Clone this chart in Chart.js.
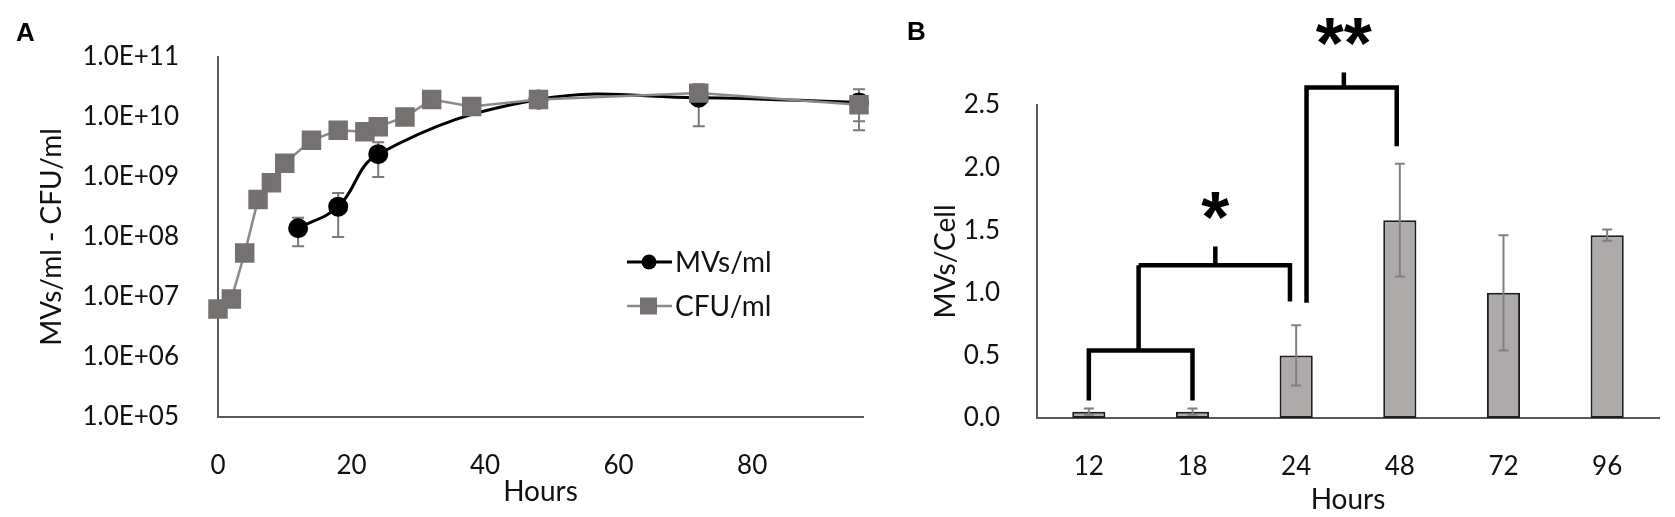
<!DOCTYPE html>
<html lang="es">
<head>
<meta charset="utf-8">
<title>MVs / CFU</title>
<script src="https://cdn.jsdelivr.net/npm/chart.js@4.4.1/dist/chart.umd.min.js"></script>
<style>
  html, body { margin: 0; padding: 0; background: #fff; }
  #contenedor { position: relative; width: 1675px; height: 517px; overflow: hidden; }
  canvas { position: absolute; top: 0; }
  #graficoA { left: 0; width: 880px; height: 517px; }
  #graficoB { left: 880px; width: 795px; height: 517px; }
  .letra { position: absolute; font: bold 26px "Liberation Sans", Arial, sans-serif; line-height: 26px; color: #000; }
</style>
</head>
<body>
<div id="contenedor">
  <canvas id="graficoA" width="880" height="517"></canvas>
  <canvas id="graficoB" width="795" height="517"></canvas>
  <div class="letra" style="left:16px; top:19px;">A</div>
  <div class="letra" style="left:907px; top:18px;">B</div>
</div>
<script>
// 🔽 Panel A: MVs/ml y CFU/ml (escala logaritmica)
const horasCFU = [0, 2, 4, 6, 8, 10, 14, 18, 22, 24, 28, 32, 38, 48, 72, 96];
const valoresCFU = [6.3e6, 9.3e6, 5.4e7, 4.2e8, 8.0e8, 1.7e9, 4.1e9, 6.0e9, 5.7e9, 6.9e9, 1.0e10, 1.95e10, 1.5e10, 1.95e10, 2.5e10, 1.6e10];
const errorCFU = [0, 0, 0, 0, 0, 0, 0, 0, 0, 0, 0, 0, 0, 0, 0, 7.5e9];

const horasMV = [12, 18, 24, 48, 72, 96];
const valoresMV = [1.4e8, 3.2e8, 2.4e9, 1.95e10, 2.1e10, 1.75e10];
const errorMV = [7e7, 2.2e8, 1.4e9, 0, 1.4e10, 1.15e10];

const ticksXA = [0, 20, 40, 60, 80];
const ticksYA = [1e5, 1e6, 1e7, 1e8, 1e9, 1e10, 1e11];

// 🔽 Panel B: MVs por celula
const categoriasB = ['12', '18', '24', '48', '72', '96'];
const mvPorCelula = [0.05, 0.05, 0.50, 1.58, 1.00, 1.46];
const errorB = [0.025, 0.025, 0.24, 0.45, 0.46, 0.045];
const ticksYB = [0, 0.5, 1.0, 1.5, 2.0, 2.5];

// corchetes de significancia (x = indice de categoria, y = MVs/Cell)
const corchetes = [
  { x1: 0, x2: 1, yTop: 0.54, yIzq: 0.14, yDer: 0.14, xTallo: 0.48, yTallo: 1.22 },
  { x1: 0.48, x2: 1.94, yTop: 1.22, yIzq: 1.22, yDer: 0.93, xTallo: 1.22, yTallo: 1.37 },
  { x1: 2.1, x2: 2.97, yTop: 2.64, yIzq: 0.92, yDer: 2.17, xTallo: 2.46, yTallo: 2.76 }
];
const asteriscos = [
  { texto: '*', x: 1.22, y: 1.51 },
  { texto: '**', x: 2.46, y: 2.90 }
];

Chart.defaults.font.family = 'Lato, "Open Sans", sans-serif';
Chart.defaults.color = '#111';

function formatoExp(v) {
  const exp = Math.round(Math.log10(v));
  return '1.0E+' + String(exp).padStart(2, '0');
}

function dibujarError(ctx, px, arriba, abajo, media) {
  ctx.beginPath();
  ctx.moveTo(px, arriba); ctx.lineTo(px, abajo);
  ctx.moveTo(px - media, arriba); ctx.lineTo(px + media, arriba);
  ctx.moveTo(px - media, abajo); ctx.lineTo(px + media, abajo);
  ctx.stroke();
}

// Barras de error del panel A (debajo de los marcadores)
const barrasErrorA = {
  id: 'barrasErrorA',
  beforeDatasetsDraw(chart) {
    const { ctx, scales: { x, y } } = chart;
    ctx.save();
    ctx.strokeStyle = '#7a7a7a';
    ctx.lineWidth = 2;
    [[horasMV, valoresMV, errorMV], [horasCFU, valoresCFU, errorCFU]].forEach(([hs, vs, es]) => {
      hs.forEach((h, i) => {
        if (!es[i]) return;
        const px = x.getPixelForValue(h);
        const arriba = y.getPixelForValue(vs[i] + es[i]);
        const abajo = y.getPixelForValue(Math.max(vs[i] - es[i], 1e5));
        dibujarError(ctx, px, arriba, abajo, 6);
      });
    });
    ctx.restore();
  }
};

// Leyenda a mano dentro del area del grafico
const leyendaA = {
  id: 'leyendaA',
  afterDraw(chart) {
    const ctx = chart.ctx;
    chart.data.datasets.forEach((ds, i) => {
      const yc = 262 + i * 44;
      ctx.save();
      ctx.strokeStyle = ds.borderColor;
      ctx.lineWidth = ds.borderWidth;
      ctx.beginPath(); ctx.moveTo(627, yc); ctx.lineTo(672, yc); ctx.stroke();
      ctx.fillStyle = ds.backgroundColor;
      if (ds.pointStyle === 'rect') {
        ctx.fillRect(640, yc - 8.5, 17, 17);
      } else {
        ctx.beginPath(); ctx.arc(649, yc, 7.5, 0, Math.PI * 2); ctx.fill();
      }
      ctx.fillStyle = '#111';
      ctx.font = '28px Lato, sans-serif';
      ctx.textBaseline = 'middle';
      ctx.fillText(ds.label, 675, yc + 1);
      ctx.restore();
    });
  }
};

new Chart(document.getElementById('graficoA'), {
  type: 'line',
  data: {
    datasets: [
      {
        label: 'MVs/ml',
        data: horasMV.map((h, i) => ({ x: h, y: valoresMV[i] })),
        borderColor: '#000',
        backgroundColor: '#000',
        pointBorderColor: '#000',
        borderWidth: 3,
        pointStyle: 'circle',
        pointRadius: 8.5,
        tension: 0.4,
        clip: false,
        order: 2
      },
      {
        label: 'CFU/ml',
        data: horasCFU.map((h, i) => ({ x: h, y: valoresCFU[i] })),
        borderColor: '#8a8a8a',
        backgroundColor: '#767171',
        pointBackgroundColor: '#767171',
        pointBorderColor: '#767171',
        borderWidth: 2.5,
        pointStyle: 'rect',
        pointRadius: 12,
        tension: 0,
        clip: false,
        order: 1
      }
    ]
  },
  options: {
    responsive: false,
    animation: false,
    layout: { padding: { top: 57, right: 17, left: 0, bottom: 0 } },
    plugins: { legend: { display: false }, tooltip: { enabled: false } },
    scales: {
      x: {
        type: 'linear', min: 0, max: 96.6,
        grid: { display: false },
        border: { display: true, color: '#595959', width: 2 },
        afterBuildTicks: s => { s.ticks = ticksXA.map(v => ({ value: v })); },
        ticks: { font: { size: 26 }, padding: 25, maxRotation: 0 },
        title: { display: true, text: 'Hours', font: { size: 28 }, padding: { top: 0, bottom: 8 } },
        afterFit: s => { s.height = 100; }
      },
      y: {
        type: 'logarithmic', min: 1e5, max: 1e11,
        grid: { display: false },
        border: { display: true, color: '#595959', width: 2 },
        afterBuildTicks: s => { s.ticks = ticksYA.map(v => ({ value: v })); },
        ticks: { font: { size: 26 }, padding: 31, callback: v => formatoExp(v) },
        title: { display: true, text: 'MVs/ml - CFU/ml', font: { size: 28 }, padding: { top: 35, bottom: 0 } },
        afterFit: s => { s.width = 218; }
      }
    }
  },
  plugins: [barrasErrorA, leyendaA]
});

// Barras de error, corchetes y asteriscos del panel B
const extrasB = {
  id: 'extrasB',
  afterDatasetsDraw(chart) {
    const { ctx, scales: { x, y } } = chart;
    ctx.save();
    ctx.strokeStyle = '#808080';
    ctx.lineWidth = 2;
    mvPorCelula.forEach((v, i) => {
      const px = x.getPixelForValue(i);
      dibujarError(ctx, px, y.getPixelForValue(v + errorB[i]), y.getPixelForValue(v - errorB[i]), 5);
    });

    ctx.strokeStyle = '#000';
    ctx.lineWidth = 4.5;
    ctx.lineCap = 'butt';
    ctx.lineJoin = 'miter';
    corchetes.forEach(c => {
      const xa = x.getPixelForValue(c.x1), xb = x.getPixelForValue(c.x2);
      const yt = y.getPixelForValue(c.yTop);
      ctx.beginPath();
      ctx.moveTo(xa, y.getPixelForValue(c.yIzq));
      ctx.lineTo(xa, yt);
      ctx.lineTo(xb, yt);
      ctx.lineTo(xb, y.getPixelForValue(c.yDer));
      ctx.stroke();
      const xt = x.getPixelForValue(c.xTallo);
      ctx.beginPath();
      ctx.moveTo(xt, yt);
      ctx.lineTo(xt, y.getPixelForValue(c.yTallo));
      ctx.stroke();
    });

    ctx.fillStyle = '#000';
    ctx.font = 'bold 72px "Liberation Sans", Arial, sans-serif';
    ctx.textAlign = 'center';
    ctx.textBaseline = 'alphabetic';
    asteriscos.forEach(a => {
      const m = ctx.measureText(a.texto);
      const alto = m.actualBoundingBoxAscent - m.actualBoundingBoxDescent;
      const base = y.getPixelForValue(a.y) + m.actualBoundingBoxAscent - alto / 2;
      ctx.fillText(a.texto, x.getPixelForValue(a.x), base);
    });
    ctx.restore();
  }
};

new Chart(document.getElementById('graficoB'), {
  type: 'bar',
  data: {
    labels: categoriasB,
    datasets: [{
      label: 'MVs/Cell',
      data: mvPorCelula,
      backgroundColor: '#AEAAAA',
      borderColor: '#1e1e1e',
      borderWidth: 2,
      borderSkipped: false,
      barPercentage: 0.32,
      categoryPercentage: 1
    }]
  },
  options: {
    responsive: false,
    animation: false,
    layout: { padding: { top: 105, right: 16, left: 0, bottom: 0 } },
    plugins: { legend: { display: false }, tooltip: { enabled: false } },
    scales: {
      x: {
        grid: { display: false },
        border: { display: true, color: '#595959', width: 2 },
        ticks: { font: { size: 26 }, padding: 25, maxRotation: 0 },
        title: { display: true, text: 'Hours', font: { size: 28 }, padding: { top: 0, bottom: 0 } },
        afterFit: s => { s.height = 99; }
      },
      y: {
        min: 0, max: 2.5,
        grid: { display: false },
        border: { display: true, color: '#595959', width: 2 },
        afterBuildTicks: s => { s.ticks = ticksYB.map(v => ({ value: v })); },
        ticks: { font: { size: 26 }, padding: 29, callback: v => Number(v).toFixed(1) },
        title: { display: true, text: 'MVs/Cell', font: { size: 28 }, padding: { top: 49, bottom: 0 } },
        afterFit: s => { s.width = 157; }
      }
    }
  },
  plugins: [extrasB]
});
</script>
</body>
</html>
